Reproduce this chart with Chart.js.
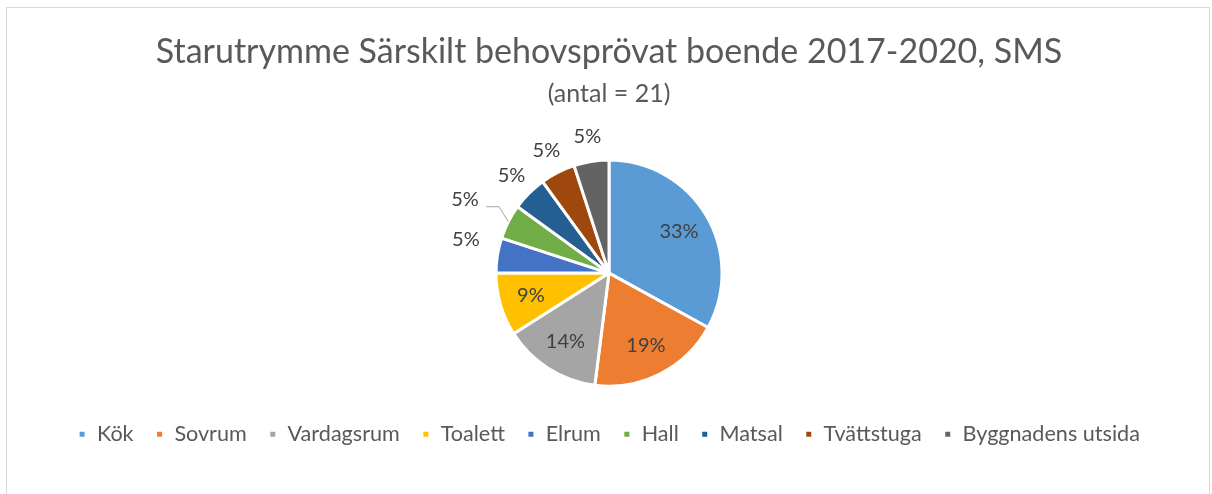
<!DOCTYPE html>
<html>
<head>
<meta charset="utf-8">
<script src="https://cdn.jsdelivr.net/npm/chart.js@4"></script>
<style>
  html, body { margin: 0; padding: 0; background: #fff; }
  #frame {
    position: absolute; left: 6px; top: 7px; width: 1202px; height: 600px;
    border: 1px solid #d9d9d9; border-bottom: none;
  }
  #wrap { position: absolute; left: 0; top: 0; width: 1212px; height: 494px; }
</style>
</head>
<body>
<div id="frame"></div>
<div id="wrap"><canvas id="chart"></canvas></div>
<script>
const rooms = ['Kök', 'Sovrum', 'Vardagsrum', 'Toalett', 'Elrum', 'Hall', 'Matsal', 'Tvättstuga', 'Byggnadens utsida'];
const shares = [33, 19, 14, 9, 5, 5, 5, 5, 5];
const colors = ['#5B9BD5', '#ED7D31', '#A5A5A5', '#FFC000', '#4472C4', '#70AD47', '#255E91', '#9E480E', '#636363'];
const fontFamily = 'Lato, "Open Sans", sans-serif';

// percent labels: inside for big slices, outside for the small ones
const pieLabels = {
    id: 'pieLabels',
    afterDatasetsDraw(chart) {
        const ctx = chart.ctx;
        const arcs = chart.getDatasetMeta(0).data;
        ctx.save();
        ctx.font = '20px ' + fontFamily;
        ctx.fillStyle = '#404040';
        ctx.textAlign = 'center';
        ctx.textBaseline = 'middle';
        arcs.forEach((arc, i) => {
            let mid = (arc.startAngle + arc.endAngle) / 2;
            const r = arc.outerRadius;
            const inside = shares[i] > 5;
            let dist = inside ? r * 0.72 : r * 1.22;
            if (i === 4) { dist = r * 1.3; mid += 0.07; }
            if (i === 5) dist = r * 1.43;
            const x = arc.x + Math.cos(mid) * dist;
            const y = arc.y + Math.sin(mid) * dist;
            if (i === 5) {
                ctx.strokeStyle = '#a6a6a6';
                ctx.lineWidth = 1;
                ctx.beginPath();
                ctx.moveTo(x + 21, y + 7);
                ctx.lineTo(x + 34, y + 7);
                ctx.lineTo(arc.x + Math.cos(mid) * r * 1.0, arc.y + Math.sin(mid) * r * 1.0);
                ctx.stroke();
            }
            ctx.fillText(shares[i] + '%', x, y);
        });
        ctx.restore();
    }
};

new Chart(document.getElementById('chart'), {
    type: 'pie',
    data: {
        labels: rooms,
        datasets: [{
            data: shares,
            backgroundColor: colors,
            borderColor: '#ffffff',
            borderWidth: 3
        }]
    },
    options: {
        responsive: true,
        maintainAspectRatio: false,
        animation: false,
        radius: 113,
        layout: { padding: { top: 0, bottom: 39, left: 6, right: 0 } },
        plugins: {
            title: {
                display: true,
                text: 'Starutrymme Särskilt behovsprövat boende 2017-2020, SMS',
                color: '#595959',
                font: { family: fontFamily, size: 34, weight: 'normal' },
                padding: { top: 32, bottom: 6 }
            },
            subtitle: {
                display: true,
                text: '(antal = 21)',
                color: '#595959',
                font: { family: fontFamily, size: 25, weight: 'normal' },
                padding: { top: 0, bottom: 36 }
            },
            legend: {
                position: 'bottom',
                labels: {
                    color: '#595959',
                    font: { family: fontFamily, size: 21.6 },
                    boxWidth: 8,
                    boxHeight: 8,
                    padding: 22
                }
            },
            tooltip: { enabled: false }
        }
    },
    plugins: [pieLabels]
});
</script>
</body>
</html>
